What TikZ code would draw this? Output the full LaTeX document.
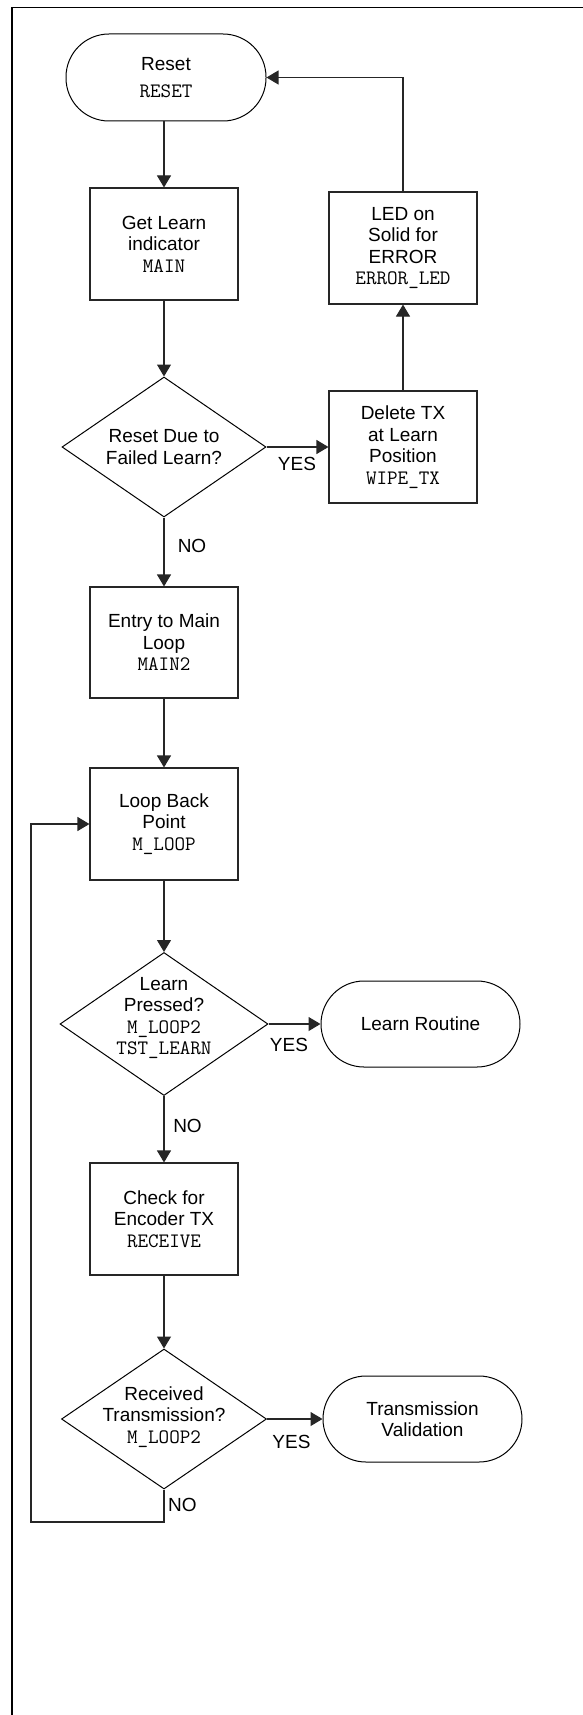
\documentclass[tikz,border=0pt]{standalone}
\usepackage{fontspec}
\setmainfont{Liberation Sans}
\usetikzlibrary{arrows.meta,shapes.geometric}
\newcommand\code[1]{{\fontsize{20.5}{21.5}\selectfont\ttfamily #1}}
\begin{document}
\begin{tikzpicture}[x=1pt,y=-1pt,
  every node/.style={font=\fontsize{19}{21.5}\selectfont, align=center},
  procbox/.style={draw=black!85, line width=1.1pt, rectangle, minimum width=148pt, minimum height=112pt, inner sep=0pt},
  term/.style={draw=black, line width=1pt, rectangle, rounded corners=43pt, minimum width=200pt, minimum height=87pt, inner sep=0pt},
  decide/.style={draw=black, line width=1pt, diamond, inner sep=0pt},
  flow/.style={draw=black!85, line width=1.1pt, -{Triangle[length=12pt,width=14pt]}},
  lbl/.style={inner sep=0pt}
]
\useasboundingbox (0,0) rectangle (583,1715);
\fill[white] (-10,-10) rectangle (600,1730);
% frame (open on the right and at the bottom)
\draw[line width=1.3pt] (600,7.5) -- (12,7.5) -- (12,1730);

% nodes
\node[term] (reset) at (166,77.5) {Reset\\[5pt]\code{RESET}};
\node[procbox] (main) at (164,244) {Get Learn\\indicator\\\code{MAIN}};
\node[decide, minimum width=204pt, minimum height=140pt] (d1) at (164,447) {};
\node[lbl] (d1t) at (d1.center) {Reset Due to\\Failed Learn?};
\node[procbox] (wipe) at (403,447) {Delete TX\\at Learn\\Position\\\code{WIPE\_TX}};
\node[procbox] (err) at (403,248) {LED on\\Solid for\\ERROR\\\code{ERROR\_LED}};
\node[procbox, minimum height=111pt] (main2) at (164,642.5) {Entry to Main\\Loop\\\code{MAIN2}};
\node[procbox] (mloop) at (164,824) {Loop Back\\Point\\\code{M\_LOOP}};
\node[decide, minimum width=208pt, minimum height=143pt] (d2) at (164,1024) {};
\node[lbl] (d2t) at ([yshift=6pt]d2.center) {Learn\\Pressed?\\\code{M\_LOOP2}\\\code{TST\_LEARN}};
\node[term, minimum width=199pt, minimum height=86pt] (learn) at (420.5,1024) {Learn Routine};
\node[procbox] (receive) at (164,1219) {Check for\\Encoder TX\\\code{RECEIVE}};
\node[decide, minimum width=205pt, minimum height=140pt] (d3) at (164,1419) {};
\node[lbl] (d3t) at ([yshift=2pt]d3.center) {Received\\Transmission?\\\code{M\_LOOP2}};
\node[term, minimum width=199pt, minimum height=86pt] (trans) at (422.5,1419) {Transmission\\Validation};

% connectors
\draw[flow] (reset.south -| main.north) -- (main.north);
\draw[flow] (err.north) |- (reset.east);
\draw[flow] (main.south) -- (d1.north);
\draw[flow] (d1.east) -- (wipe.west);
\node[lbl] (yes1) at (297,464) {YES};
\draw[flow] (wipe.north) -- (err.south);
\draw[flow] (d1.south) -- (main2.north);
\node[lbl] (no1) at (192,546) {NO};
\draw[flow] (main2.south) -- (mloop.north);
\draw[flow] (mloop.south) -- (d2.north);
\draw[flow] (d2.east) -- (learn.west);
\node[lbl] (yes2) at (289,1045) {YES};
\draw[flow] (d2.south) -- (receive.north);
\node[lbl] (no2) at (187.5,1126) {NO};
\draw[flow] (receive.south) -- (d3.north);
\draw[flow] (d3.east) -- (trans.west);
\node[lbl] (yes3) at (291.5,1442) {YES};
\coordinate (nob) at (164,1522);
\coordinate (nol) at (31,1522);
\draw[flow] (d3.south) -- (nob) -- (nol) |- (mloop.west);
\node[lbl, anchor=west] (no3) at (168,1505) {NO};
\end{tikzpicture}
\end{document}
